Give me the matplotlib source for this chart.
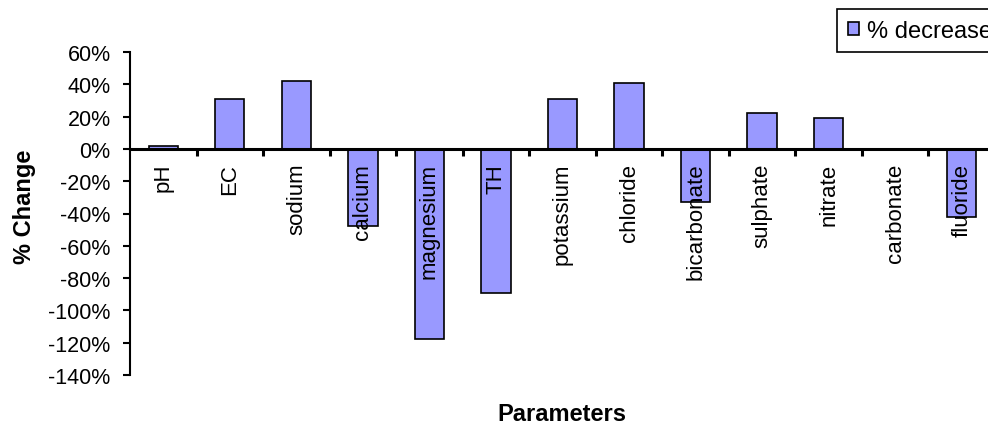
import matplotlib
matplotlib.use('Agg')
import matplotlib.pyplot as plt
import numpy as np
from matplotlib.ticker import FixedLocator, FuncFormatter

plt.rcParams['font.family'] = ['Liberation Sans', 'DejaVu Sans']
plt.rcParams['axes.unicode_minus'] = False

# данные с картинки
parameters = ['pH', 'EC', 'sodium', 'calcium', 'magnesium', 'TH', 'potassium',
              'chloride', 'bicarbonate', 'sulphate', 'nitrate', 'carbonate', 'fluoride']
pct_change = [2, 31, 42, -48, -118, -89, 31, 41, -33, 22, 19, 0, -42]
y_ticks = list(range(-140, 61, 20))
legend_label = '% decrease'

fig = plt.figure(figsize=(9.88, 4.27), dpi=100)
ax = fig.add_axes([130 / 988, 51 / 427, 865 / 988, 323 / 427])

x = np.arange(len(parameters))
ax.bar(x, pct_change, width=0.44, color='#9999FF', edgecolor='black',
       linewidth=1.2, label=legend_label)

ax.set_xlim(-0.5, len(parameters) - 0.5)
ax.set_ylim(-140, 60)

for s in ['top', 'right']:
    ax.spines[s].set_visible(False)
ax.spines['bottom'].set_position(('data', 0))
ax.spines['bottom'].set_linewidth(2.2)
ax.spines['left'].set_linewidth(1.5)

# подписи категорий под нулевой линией
ax.set_xticks(x)
ax.set_xticklabels(parameters, rotation=90, va='top', ha='center', fontsize=16)
ax.tick_params(axis='x', which='major', length=0, pad=10)
ax.xaxis.set_minor_locator(FixedLocator(x[:-1] + 0.5))
ax.tick_params(axis='x', which='minor', length=5, width=2.2, direction='out')

ax.set_yticks(y_ticks)
ax.yaxis.set_major_formatter(FuncFormatter(lambda v, p: f'{int(v)}%'))
ax.tick_params(axis='y', length=5, width=1.5, direction='out', labelsize=15.5, pad=9)

fig.text(25 / 988, 1 - 207 / 427, '% Change', rotation=90, ha='center', va='center',
         fontsize=17, fontweight='bold')
fig.text(562 / 988, 1 - 415 / 427, 'Parameters', ha='center', va='center',
         fontsize=17, fontweight='bold')

leg = fig.legend(loc='upper left', bbox_to_anchor=(837 / 988, 1 - 10 / 427),
                 borderaxespad=0, fontsize=17, handlelength=0.5, handleheight=0.5,
                 handletextpad=0.3, borderpad=0.45, fancybox=False, framealpha=1)
leg.get_frame().set_edgecolor('black')
leg.get_frame().set_linewidth(1.2)

plt.savefig('out.png', dpi=100)
plt.close()
